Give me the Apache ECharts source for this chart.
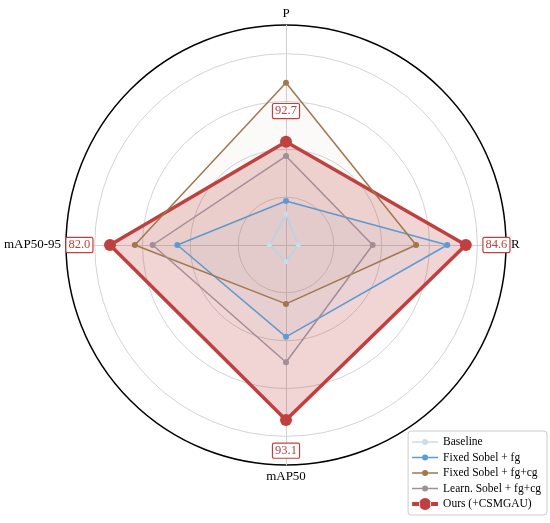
<!DOCTYPE html>
<html>
<head>
<meta charset="utf-8">
<script src="https://cdn.jsdelivr.net/npm/echarts@6/dist/echarts.min.js"></script>
<style>html,body{margin:0;padding:0;background:#fff;}#c{width:550px;height:523px;}</style>
</head>
<body>
<div id="c"></div>
<script>
// Indicator order as drawn (counter-clockwise from top)
const categories = ['P', 'mAP50-95', 'mAP50', 'R'];
// Normalized radial values
const baseline = [0.162, 0.087, 0.087, 0.064];
const fixedFg = [0.23, 0.568, 0.48, 0.843];
const fixedFgCg = [0.848, 0.79, 0.308, 0.68];
const learnFgCg = [0.465, 0.697, 0.613, 0.453];
const ours = [0.54, 0.92, 0.915, 0.94];
// Raw metric values shown in the boxed labels
const oursRaw = [92.7, 82.0, 93.1, 84.6];
const seriesNames = ['Baseline', 'Fixed Sobel + fg', 'Fixed Sobel + fg+cg', 'Learn. Sobel + fg+cg', 'Ours (+CSMGAU)'];

const colors = ['#c8dcea', '#5b9bd5', '#a0784c', '#a38d96', '#c0403f'];
const labelOffset = 0.16;
const labelVals = ours.map(v => v + labelOffset);

const FONT = 'Liberation Serif';
const thinIcon = 'path://M0 5.25H10V6.75H0Z M16 5.25H26V6.75H16Z M10 6A3 3 0 1 0 16 6A3 3 0 1 0 10 6Z M13 0L13.01 0L13 0.01Z M13 12L13.01 12L13 11.99Z';
const thickIcon = 'path://M0 4H8V8H0Z M18 4H26V8H18Z M7 6A6 6 0 1 0 19 6A6 6 0 1 0 7 6Z';

const center = [286, 245];
const chart = echarts.init(document.getElementById('c'), null, {renderer: 'canvas'});

function mk(name, vals, color, lw, sym, areaOp, z) {
  return {
    type: 'radar', radarIndex: 1, name: name, z: z,
    symbol: 'circle', symbolSize: sym,
    itemStyle: {color: color},
    lineStyle: {color: color, width: lw},
    areaStyle: {color: color, opacity: areaOp},
    data: [{value: vals, name: name}]
  };
}

const option = {
  animation: false,
  backgroundColor: '#fff',
  legend: {
    orient: 'vertical', right: 3, bottom: 8,
    data: seriesNames.map((n, i) => ({name: n, icon: i === 4 ? thickIcon : thinIcon})),
    itemWidth: 26, itemHeight: 12, itemGap: 3.5,
    padding: [5, 6, 5, 4],
    borderColor: '#cccccc', borderWidth: 1, borderRadius: 3,
    backgroundColor: 'rgba(255,255,255,0.85)',
    itemStyle: {borderWidth: 0},
    textStyle: {fontFamily: FONT, fontSize: 11.5, color: '#000'}
  },
  radar: [
    {
      center: center, radius: 220 / 1.15, shape: 'circle', splitNumber: 4,
      indicator: categories.map(c => ({name: c, min: 0, max: 1})),
      axisName: {show: false},
      axisLine: {show: false}, axisTick: {show: false}, axisLabel: {show: false},
      splitArea: {show: false},
      splitLine: {lineStyle: {color: '#d4d4d4', width: 1}}
    },
    {
      center: center, radius: 220, shape: 'circle', splitNumber: 1,
      indicator: categories.map(c => ({name: c, min: 0, max: 1.15})),
      nameGap: 5,
      axisName: {color: '#000', fontFamily: FONT, fontSize: 13},
      axisLine: {show: true, lineStyle: {color: '#d0d0d0', width: 1}},
      axisTick: {show: false}, axisLabel: {show: false},
      splitArea: {show: false},
      splitLine: {lineStyle: {color: '#000', width: 1.5}}
    }
  ],
  series: [
    mk(seriesNames[0], baseline, colors[0], 2, 5, 0.05, 3),
    mk(seriesNames[1], fixedFg, colors[1], 1.5, 6, 0.04, 3),
    mk(seriesNames[2], fixedFgCg, colors[2], 1.5, 6, 0.04, 3),
    mk(seriesNames[3], learnFgCg, colors[3], 1.5, 6, 0.04, 3),
    mk(seriesNames[4], ours, colors[4], 3.5, 12, 0.22, 2),
    {
      type: 'radar', radarIndex: 1, name: 'labels', z: 5,
      symbol: 'circle', symbolSize: 1,
      itemStyle: {color: 'rgba(0,0,0,0)'},
      lineStyle: {width: 0, opacity: 0},
      silent: true,
      label: {
        show: true, position: 'inside',
        formatter: p => oursRaw[labelVals.indexOf(p.value)].toFixed(1),
        fontFamily: FONT, fontSize: 12.5, color: '#c0403f',
        backgroundColor: '#fff', borderColor: '#c0403f', borderWidth: 1.2,
        padding: [1, 2, 0, 2], borderRadius: 1
      },
      data: [{value: labelVals, name: 'labels'}]
    }
  ]
};
chart.setOption(option);
</script>
</body>
</html>
